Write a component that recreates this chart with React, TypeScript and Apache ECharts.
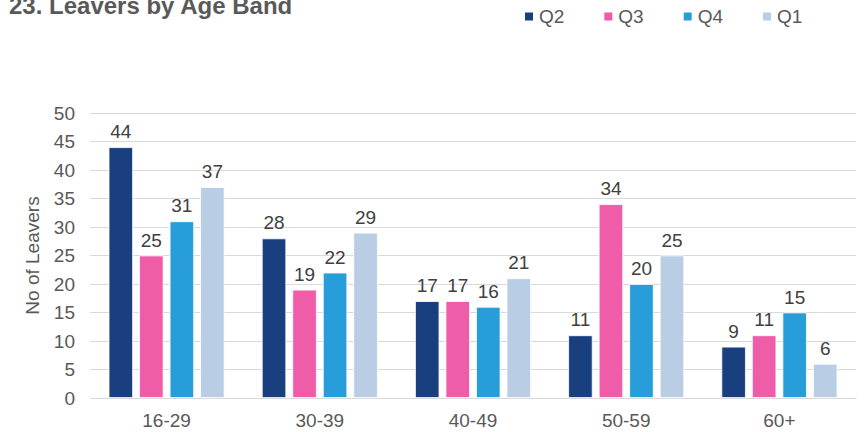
import React, { useEffect, useRef } from "react";
import * as echarts from "echarts";

const categories = ["16-29", "30-39", "40-49", "50-59", "60+"];
const seriesNames = ["Q2", "Q3", "Q4", "Q1"];
const q2 = [44, 28, 17, 11, 9];
const q3 = [25, 19, 17, 34, 11];
const q4 = [31, 22, 16, 20, 15];
const q1 = [37, 29, 21, 25, 6];
const colors = ["#1a3f7f", "#ef5da8", "#279ed9", "#b9cde5"];
const titleText = "23. Leavers by Age Band";
const yAxisName = "No of Leavers";

const FONT = '"Liberation Sans", Arial, sans-serif';

export default function App() {
  const ref = useRef<HTMLDivElement>(null);

  useEffect(() => {
    if (!ref.current) return;
    const chart = echarts.init(ref.current, undefined, { renderer: "svg" });
    const values = [q2, q3, q4, q1];
    chart.setOption({
      animation: false,
      backgroundColor: "#ffffff",
      textStyle: { fontFamily: FONT },
      graphic: [
        {
          type: "text",
          left: 9,
          top: -7,
          style: {
            text: titleText,
            font: `bold 24px ${FONT}`,
            fill: "#595959",
          },
        },
      ],
      legend: {
        data: seriesNames,
        left: 518,
        top: 2,
        icon: "rect",
        itemWidth: 10,
        itemHeight: 10,
        itemGap: 38,
        textStyle: { fontFamily: FONT, fontSize: 19, color: "#595959" },
      },
      grid: { left: 90, right: 10, top: 113, bottom: 34 },
      xAxis: {
        type: "category",
        data: categories,
        axisLine: { lineStyle: { color: "#d9d9d9", width: 1 } },
        axisTick: { show: false },
        axisLabel: { fontFamily: FONT, fontSize: 19, color: "#595959", margin: 13 },
      },
      yAxis: {
        type: "value",
        min: 0,
        max: 50,
        interval: 5,
        name: yAxisName,
        nameLocation: "middle",
        nameGap: 48,
        nameTextStyle: { fontFamily: FONT, fontSize: 19, color: "#595959" },
        axisLine: { show: false },
        axisTick: { show: false },
        axisLabel: { fontFamily: FONT, fontSize: 19, color: "#595959", margin: 15 },
        splitLine: { lineStyle: { color: "#d9d9d9", width: 1 } },
      },
      series: seriesNames.map((name, i) => ({
        name,
        type: "bar",
        data: values[i],
        barGap: "25%",
        barCategoryGap: "24.3%",
        itemStyle: { color: colors[i], borderColor: "#ffffff", borderWidth: 0.8 },
        label: {
          show: true,
          position: "top",
          distance: 6,
          fontFamily: FONT,
          fontSize: 19,
          color: "#404040",
        },
      })),
    });
    return () => chart.dispose();
  }, []);

  return (
    <div
      ref={ref}
      style={{ position: "fixed", left: 0, top: 0, width: 866, height: 432 }}
    />
  );
}
